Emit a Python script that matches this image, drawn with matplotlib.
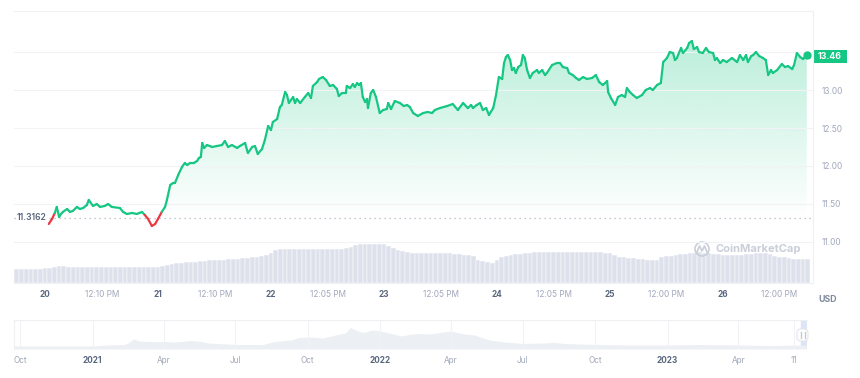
import numpy as np
import matplotlib
matplotlib.use('Agg')
import matplotlib.pyplot as plt
from matplotlib.collections import LineCollection
from matplotlib.colors import to_rgb
from matplotlib.patches import PathPatch, Rectangle, Circle, FancyBboxPatch
from matplotlib.lines import Line2D
from matplotlib.transforms import IdentityTransform

plt.rcParams['font.family'] = ['Inter', 'DejaVu Sans']

GREEN = '#16c784'
RED = '#ea3943'
GREY_TXT = '#a1a7bb'
DARK_TXT = '#58667e'

# price, hours counted from day 20, 00:00
hours = [0.8, 1.5, 2.1, 2.5, 3.0, 3.4, 3.8, 4.7, 5.3, 5.9, 6.8, 7.4, 8.1, 8.9, 9.3, 10.2, 11.0, 11.7,
         12.7, 13.4, 14.2, 15.9, 16.6, 17.4, 18.5, 19.5, 20.6, 21.2, 21.9, 22.7, 23.4, 24.0, 24.8, 25.5,
         25.9, 26.6, 27.2, 27.6, 28.3, 29.1, 29.7, 30.2, 30.8, 31.6, 32.3, 32.7, 33.1, 33.4, 33.8, 34.4,
         35.0, 35.5, 36.5, 37.6, 38.2, 38.9, 39.7, 40.8, 41.4, 42.5, 43.1, 44.0, 44.6, 45.2, 46.1, 46.7,
         47.4, 48.0, 48.4, 49.3, 49.9, 50.3, 51.0, 51.4, 51.8, 52.7, 53.1, 53.5, 54.2, 55.2, 55.9, 56.5,
         56.9, 57.8, 58.2, 59.0, 59.7, 60.5, 61.2, 62.0, 62.4, 63.1, 63.9, 64.1, 64.8, 65.4, 65.8, 66.3,
         66.7, 67.1, 67.5, 68.0, 68.4, 68.6, 69.2, 69.7, 70.3, 71.1, 71.8, 72.6, 72.9, 73.5, 74.3, 75.4,
         76.2, 76.9, 77.5, 78.2, 79.2, 80.3, 81.3, 82.2, 82.8, 83.9, 85.4, 86.6, 87.7, 88.8, 89.8, 90.5,
         90.9, 91.7, 92.4, 93.0, 93.7, 94.3, 95.2, 95.8, 96.4, 97.1, 97.5, 97.9, 98.3, 98.8, 99.2, 99.6,
         100.0, 100.5, 101.1, 101.5, 101.9, 102.4, 103.0, 103.6, 104.5, 104.9, 105.6, 106.2, 106.6, 107.7,
         108.7, 109.4, 110.0, 110.9, 111.3, 112.1, 112.8, 113.4, 114.3, 115.1, 116.2, 117.0, 117.7, 118.5,
         119.4, 119.6, 120.2, 121.1, 121.7, 122.5, 123.2, 123.6, 124.2, 124.9, 125.7, 126.8, 127.6, 128.5,
         129.1, 130.0, 130.8, 131.3, 132.1, 132.7, 133.4, 133.8, 134.2, 135.1, 135.5, 136.4, 136.8, 137.4,
         137.8, 138.5, 138.9, 139.7, 140.4, 141.0, 141.9, 142.3, 142.7, 143.4, 144.0, 144.8, 145.9, 147.0,
         147.6, 148.3, 148.9, 149.3, 150.0, 150.4, 151.0, 151.7, 152.5, 153.1, 153.6, 154.2, 154.6, 155.5,
         156.5, 157.2, 157.8, 158.7, 159.1, 159.7, 160.4, 161.0, 161.8]
prices = [11.237, 11.303, 11.382, 11.461, 11.330, 11.368, 11.395, 11.434, 11.395, 11.408, 11.461, 11.434,
          11.447, 11.487, 11.553, 11.474, 11.500, 11.461, 11.474, 11.500, 11.461, 11.447, 11.395, 11.368,
          11.382, 11.368, 11.395, 11.355, 11.303, 11.211, 11.237, 11.303, 11.395, 11.461, 11.553, 11.750,
          11.776, 11.776, 11.882, 11.987, 12.039, 12.013, 12.039, 12.039, 12.066, 12.105, 12.118, 12.303,
          12.237, 12.276, 12.263, 12.250, 12.263, 12.276, 12.329, 12.250, 12.276, 12.237, 12.263, 12.303,
          12.171, 12.250, 12.263, 12.158, 12.224, 12.342, 12.526, 12.474, 12.579, 12.618, 12.776, 12.803,
          12.974, 12.934, 12.829, 12.908, 12.829, 12.882, 12.829, 12.908, 12.961, 12.895, 13.053, 13.105,
          13.145, 13.171, 13.131, 13.053, 13.066, 13.013, 12.921, 12.961, 12.961, 13.053, 13.026, 13.079,
          13.039, 13.092, 13.066, 13.092, 12.908, 12.842, 12.882, 12.763, 12.961, 13.000, 12.908, 12.697,
          12.737, 12.750, 12.829, 12.750, 12.855, 12.829, 12.789, 12.803, 12.776, 12.697, 12.658, 12.697,
          12.711, 12.697, 12.737, 12.763, 12.789, 12.816, 12.737, 12.829, 12.763, 12.803, 12.763, 12.803,
          12.829, 12.737, 12.763, 12.671, 12.763, 12.934, 13.171, 13.145, 13.355, 13.434, 13.460, 13.395,
          13.263, 13.289, 13.224, 13.302, 13.329, 13.460, 13.421, 13.263, 13.158, 13.224, 13.263, 13.224,
          13.263, 13.197, 13.224, 13.329, 13.355, 13.355, 13.302, 13.289, 13.224, 13.197, 13.158, 13.131,
          13.171, 13.145, 13.158, 13.197, 13.105, 13.066, 13.118, 12.974, 12.895, 12.803, 12.908, 12.934,
          12.908, 13.026, 12.974, 12.934, 12.895, 12.934, 13.000, 13.026, 13.000, 13.066, 13.092, 13.368,
          13.421, 13.500, 13.487, 13.395, 13.421, 13.553, 13.487, 13.553, 13.618, 13.645, 13.539, 13.566,
          13.500, 13.487, 13.553, 13.500, 13.487, 13.395, 13.421, 13.355, 13.395, 13.368, 13.421, 13.368,
          13.460, 13.395, 13.460, 13.368, 13.447, 13.460, 13.500, 13.447, 13.421, 13.395, 13.197, 13.263,
          13.224, 13.263, 13.342, 13.302, 13.316, 13.276, 13.329, 13.487, 13.434, 13.408, 13.460]
baseline = 11.3162
last_price = 13.46

# hourly volume (arbitrary units), hour -6 .. 162
vol_hours = list(range(-6, 163))
volume = [13.7, 13.7, 13.7, 13.7, 13.7, 14.5, 15, 15.5, 16.5, 17.5,
          17, 16.5, 16.3, 16.3, 16.3, 16.3, 16.3, 16.3, 16.3, 16.3,
          16.3, 16.3, 16.3, 16.3, 16.3, 16.3, 16.3, 16.3, 16.3, 16.3,
          16.3, 17, 18, 19, 20, 20.5, 21, 21, 21.5, 22,
          22.5, 23, 23, 23.5, 23.5, 24, 24, 24.5, 25, 25.5,
          26, 26.5, 27, 28, 30, 33, 34.5, 34.5, 34.5, 34.5,
          34.5, 34.5, 34.5, 34.5, 34.5, 34.5, 34.5, 34.5, 34.5, 34.5,
          35.5, 36.5, 38, 39.5, 39.5, 39.5, 39.5, 39.5, 39.5, 37.5,
          35.5, 33.5, 32, 31, 29.7, 29.7, 29.7, 29.7, 29.7, 29.7,
          29.7, 29.7, 29.7, 29.5, 29, 28.5, 28, 27, 23, 22,
          21, 20.5, 23, 26, 27.5, 28.5, 29, 29.5, 30, 30.5,
          31, 31, 31, 31, 31, 31, 31, 31, 31, 31,
          31, 31, 31, 31, 31, 30.5, 30, 28, 26.5, 26,
          25.5, 25, 24.5, 24, 23.5, 23, 23, 26, 27, 27.5,
          28.5, 29, 29.5, 30, 30.5, 30.7, 30.5, 30, 29.5, 29,
          28.5, 28.5, 28, 28, 28.5, 29, 29.5, 30, 30, 30,
          29, 27.5, 26.5, 26, 25, 24.5, 24, 24, 24]

day_ticks = [0, 12.17, 24, 36.17, 48, 60.08, 72, 84.08, 96, 108.08, 120, 132, 144, 156]
day_labels = ['20', '12:10 PM', '21', '12:10 PM', '22', '12:05 PM', '23', '12:05 PM',
              '24', '12:05 PM', '25', '12:00 PM', '26', '12:00 PM']
price_ticks = [11.0, 11.5, 12.0, 12.5, 13.0, 13.5]
price_labels = ['11.00', '11.50', '12.00', '12.50', '13.00', '']

# overview navigator
nav_dates = ['2020-09-23', '2020-10-15', '2020-12-01', '2021-01-01', '2021-01-20', '2021-02-10',
             '2021-02-15', '2021-02-22', '2021-03-01', '2021-03-15', '2021-04-01', '2021-04-15',
             '2021-05-05', '2021-05-20', '2021-05-27', '2021-07-01', '2021-08-05', '2021-08-20',
             '2021-09-10', '2021-09-20', '2021-10-05', '2021-10-20', '2021-11-05', '2021-11-18',
             '2021-11-24', '2021-12-01', '2021-12-10', '2021-12-22', '2022-01-01', '2022-01-15',
             '2022-01-28', '2022-02-10', '2022-02-22', '2022-03-05', '2022-03-18', '2022-04-01',
             '2022-04-18', '2022-05-01', '2022-05-08', '2022-05-20', '2022-06-08', '2022-07-01',
             '2022-07-28', '2022-08-10', '2022-08-23', '2022-10-01', '2022-11-12', '2023-01-01',
             '2023-02-12', '2023-04-01', '2023-05-10', '2023-06-26']
nav_values = [3, 3, 3, 3, 4, 4.5, 6, 10, 8, 7.5, 7.5, 7, 8.5, 7.5, 6, 4.5, 4.5, 7.5, 9, 11.5, 12, 11,
              14, 16, 21.5, 19, 16.5, 19, 18, 15.5, 13, 15, 15.5, 15, 16.5, 18, 15, 14, 12, 9, 7,
              5.5, 6, 6.5, 5.5, 4.5, 4, 4, 4.5, 4, 3.5, 4]
nav_ticks = ['2020-10-01', '2021-01-01', '2021-04-01', '2021-07-01', '2021-10-01', '2022-01-01',
             '2022-04-01', '2022-07-01', '2022-10-01', '2023-01-01', '2023-04-01', '2023-06-11']
nav_labels = ['Oct', '2021', 'Apr', 'Jul', 'Oct', '2022', 'Apr', 'Jul', 'Oct', '2023', 'Apr', '11']

W, H = 860, 378
fig = plt.figure(figsize=(W / 100, H / 100), dpi=100)


def rect(x0, y0, x1, y1):
    return [x0 / W, 1 - y1 / H, (x1 - x0) / W, (y1 - y0) / H]


main_rect = rect(14, 11, 813, 283)
xlim = (-6.58, 163.12)

ax_vol = fig.add_axes(main_rect, zorder=0)
ax_vol.bar(vol_hours, volume, width=1.0, color='#dde1ec', edgecolor='white', linewidth=0.35)
ax_vol.set_xlim(*xlim)
ax_vol.set_ylim(0, 272)
ax_vol.axis('off')

ax = fig.add_axes(main_rect, zorder=1)
ax.patch.set_alpha(0)
ax.set_xlim(*xlim)
ax.set_ylim(10.46, 14.04)

h = np.array(hours)
p = np.array(prices)

# gradient area under the line
fill = ax.fill_between(h, p, baseline, facecolor='none', edgecolor='none')
clip = PathPatch(fill.get_paths()[0], transform=ax.transData, facecolor='none', edgecolor='none')
ax.add_patch(clip)
grad = np.zeros((256, 1, 4))
grad[..., :3] = to_rgb(GREEN)
grad[..., 3] = np.linspace(0, 0.3, 256)[:, None]
im = ax.imshow(grad, extent=[h[0], h[-1], baseline, 13.7], origin='lower', aspect='auto',
               interpolation='bilinear', zorder=1)
im.set_clip_path(clip)

# price line, red where under the opening price
pts = np.column_stack([h, p])
segs = np.stack([pts[:-1], pts[1:]], axis=1)
cols = [RED if min(a, b) < baseline else GREEN for a, b in zip(p[:-1], p[1:])]
lc = LineCollection(segs, colors=cols, linewidths=1.6, capstyle='round', joinstyle='round', zorder=3)
ax.add_collection(lc)
ax.plot(h[-1], last_price, 'o', ms=5, color=GREEN, zorder=4)

ax.hlines(baseline, xlim[0], xlim[1], colors='#aeb5c4', linewidth=0.9, linestyles=(0, (1, 3)), zorder=2)
ax.text(-5.95, baseline, '11.3162', ha='left', va='center', fontsize=6.2, fontweight='semibold',
        color=DARK_TXT, zorder=5, bbox=dict(boxstyle='square,pad=0.15', fc='white', ec='none'))

ax.set_yticks(price_ticks, price_labels)
ax.yaxis.tick_right()
ax.tick_params(axis='y', length=0, pad=6, labelsize=6, labelcolor=GREY_TXT)
ax.grid(axis='y', color='#f1f3f6', linewidth=0.8, zorder=0)
ax.set_xticks(day_ticks, day_labels)
ax.tick_params(axis='x', length=0, pad=5, labelsize=5.9, labelcolor=GREY_TXT)
for lab in ax.get_xticklabels():
    if lab.get_text().isdigit():
        lab.set_fontweight('bold')
        lab.set_color(DARK_TXT)
for side in ['left']:
    ax.spines[side].set_visible(False)
for side in ['top', 'right', 'bottom']:
    ax.spines[side].set_color('#eef0f3')
    ax.spines[side].set_linewidth(0.8)

# last price tag
fig.add_artist(Rectangle((813 / W, 1 - 63 / H), 34 / W, 13 / H, transform=fig.transFigure,
                         facecolor=GREEN, edgecolor='none'))
fig.text(830 / W, 1 - 56.5 / H, f'{last_price:.2f}', ha='center', va='center', fontsize=6.3,
         fontweight='bold', color='white')
fig.text(828 / W, 1 - 299 / H, 'USD', ha='center', va='center', fontsize=6.3,
         fontweight='bold', color='#808a9d')

# watermark
wm = '#c9ced9'
fig.add_artist(Circle((702, H - 249), 7, transform=IdentityTransform(), facecolor='none',
                      edgecolor=wm, linewidth=1.2))
fig.add_artist(Line2D([697, 699.5, 702, 704.5, 707], [H - 252, H - 246, H - 251, H - 246, H - 252],
                      transform=IdentityTransform(), color=wm, linewidth=1.2))
fig.text(716 / W, 1 - 249 / H, 'CoinMarketCap', ha='left', va='center', fontsize=8,
         fontweight='bold', color=wm)

# navigator
nav = fig.add_axes(rect(14, 320, 807, 349))
nd = np.array(nav_dates, dtype='datetime64[D]')
nav.fill_between(nd, nav_values, 0, color='#eceff3', linewidth=0)
nav.set_xlim(np.datetime64('2020-09-23'), np.datetime64('2023-06-27'))
nav.set_ylim(0, 29)
nav.axvspan(np.datetime64('2023-06-19'), np.datetime64('2023-06-27'), color='#dce4f5', zorder=0)
nt = np.array(nav_ticks, dtype='datetime64[D]')
nav.set_xticks(nt, nav_labels)
nav.set_yticks([])
nav.grid(axis='x', color='#f0f2f5', linewidth=0.8)
nav.tick_params(axis='x', length=0, pad=5, labelsize=5.9, labelcolor=GREY_TXT)
for lab in nav.get_xticklabels():
    if lab.get_text().startswith('20'):
        lab.set_fontweight('bold')
        lab.set_color(DARK_TXT)
for side in ['top', 'left']:
    nav.spines[side].set_color('#eef0f3')
    nav.spines[side].set_linewidth(0.8)
for side in ['right', 'bottom']:
    nav.spines[side].set_visible(False)

fig.add_artist(FancyBboxPatch((797, H - 341), 11, 12, boxstyle='round,pad=0,rounding_size=4',
                              transform=IdentityTransform(), facecolor='white',
                              edgecolor='#e3e6ec', linewidth=0.8))
for xx in [800.5, 804.5]:
    fig.add_artist(Line2D([xx, xx], [H - 338, H - 332], transform=IdentityTransform(),
                          color='#c3c8d3', linewidth=1.0))

fig.savefig('out.png', dpi=100, facecolor='white')
